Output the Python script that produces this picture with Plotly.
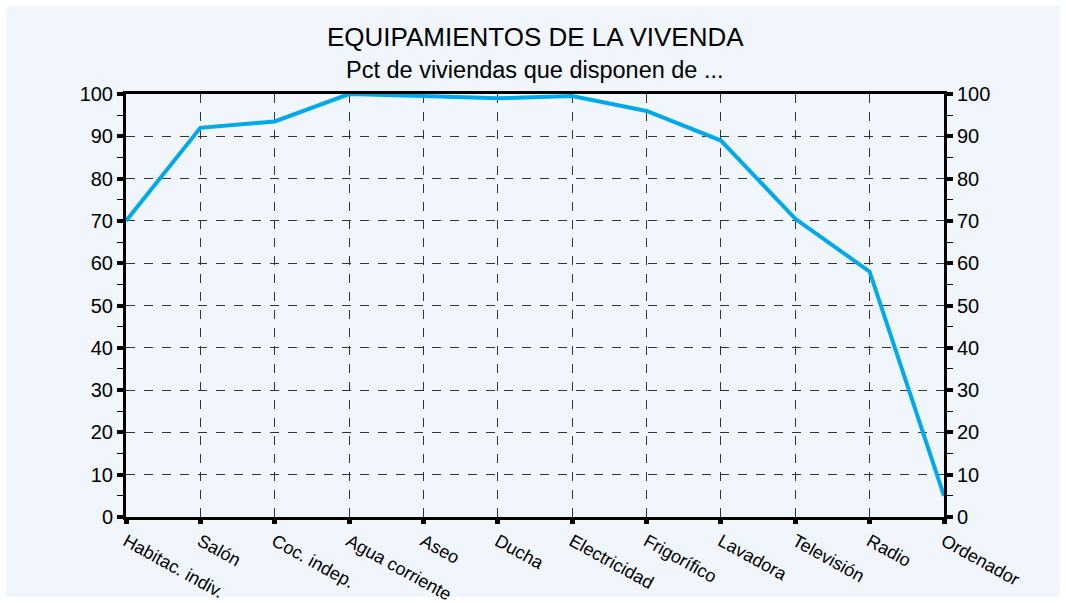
import plotly.graph_objects as go

categories = ["Habitac. indiv.", "Salón", "Coc. indep.", "Agua corriente", "Aseo", "Ducha",
              "Electricidad", "Frigorífico", "Lavadora", "Televisión", "Radio", "Ordenador"]
values = [70, 92, 93.5, 100, 99.5, 99, 99.5, 96, 89, 70.5, 58, 5]
y_ticks = list(range(0, 101, 10))

title_text = "EQUIPAMIENTOS DE LA VIVENDA"
subtitle_text = "Pct de viviendas que disponen de ..."

FONT = "Liberation Sans, Arial, Helvetica, sans-serif"
L, R, T, B = 126, 122, 94, 86
W, H = 1066, 603
pw, ph = W - L - R, H - T - B

fig = go.Figure()
fig.add_trace(go.Scatter(x=categories, y=values, mode="lines",
                         line=dict(color="#00a9ea", width=4), showlegend=False,
                         hoverinfo="x+y"))
fig.add_trace(go.Scatter(x=categories, y=values, mode="lines", yaxis="y2",
                         line=dict(color="rgba(0,0,0,0)", width=0), showlegend=False,
                         hoverinfo="skip"))

yax = dict(range=[0, 100], tickvals=y_ticks, ticks="outside", ticklen=6, tickwidth=4,
           tickcolor="black", showline=True, linecolor="black", linewidth=3,
           showgrid=True, gridcolor="#333333", griddash="dash", gridwidth=1,
           zeroline=False, tickfont=dict(family=FONT, size=20, color="black"),
           minor=dict(dtick=5, tick0=0, ticks="outside", ticklen=6, tickwidth=1,
                      tickcolor="black", showgrid=False),
           fixedrange=True, automargin=False)

fig.update_layout(
    width=W, height=H,
    margin=dict(l=L, r=R, t=T, b=B, autoexpand=False),
    paper_bgcolor="white",
    plot_bgcolor="#eaf3fb",
    font=dict(family=FONT, color="black"),
    xaxis=dict(type="category", range=[0, 11], showline=True, linecolor="black", linewidth=3,
               mirror=False, ticks="outside", ticklen=4, tickwidth=5, tickcolor="black",
               showgrid=True, gridcolor="#333333", griddash="dash", gridwidth=1,
               tickangle=29, tickfont=dict(family=FONT, size=18, color="black"),
               zeroline=False, automargin=False, fixedrange=True),
    xaxis2=dict(overlaying="x", side="top", showline=True, linecolor="black", linewidth=3,
                showticklabels=False, ticks="", showgrid=False, range=[0, 1], visible=True,
                automargin=False, fixedrange=True),
    yaxis=dict(**yax),
    yaxis2=dict(**{**yax, "showgrid": False}, overlaying="y", side="right", anchor="x"),
    shapes=[dict(type="rect", xref="paper", yref="paper",
                 x0=(6 - L) / pw, x1=(1060 - L) / pw,
                 y0=(H - 597 - B) / ph, y1=(H - 6 - B) / ph,
                 fillcolor="#f1f6fc", line=dict(width=0), layer="below")],
    annotations=[
        dict(text=title_text, xref="paper", yref="paper", x=0.5, y=(H - 37 - B) / ph,
             showarrow=False, font=dict(family=FONT, size=26, color="black"),
             xanchor="center", yanchor="middle"),
        dict(text=subtitle_text, xref="paper", yref="paper", x=0.5, y=(H - 70 - B) / ph,
             showarrow=False, font=dict(family=FONT, size=23.5, color="black"),
             xanchor="center", yanchor="middle"),
    ],
)
fig.add_trace(go.Scatter(x=[0, 1], y=[0, 0], xaxis="x2", mode="lines",
                         line=dict(color="rgba(0,0,0,0)"), showlegend=False, hoverinfo="skip"))

fig.write_html("out.html", config={"displayModeBar": False},
               post_script="document.body.style.margin='0';document.body.style.overflow='hidden';")
